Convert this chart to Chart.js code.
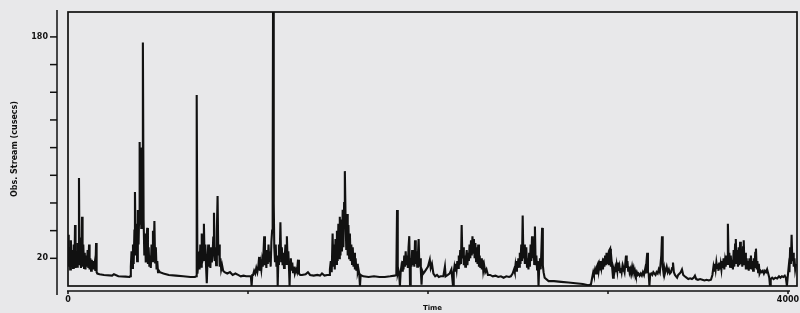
<!DOCTYPE html>
<html>
<head>
<meta charset="utf-8">
<script src="https://cdn.jsdelivr.net/npm/chart.js@4.4.1/dist/chart.umd.min.js"></script>
<style>
html,body{margin:0;padding:0;background:#e8e8ea;}
canvas{display:block;}
</style>
</head>
<body>
<canvas id="c" width="800" height="313"></canvas>
<script>
const segA_t = [0,4,8,12,16,20,24,28,32,36,39,42,46,50,54,58,61,64,68,72,76,78,81,85,89,93,97,101,105,109,113,117,120,124,128,132,136,140,144,148,152,156,159,163,175,200,245,255,280,320,342];
const segA_v = [37,14,28,12,33,16,26,13,30,15,44,13,25,14,31,17,78,15,35,13,27,50,14,30,13,24,12,22,14,26,13,30,12,20,11,19,12,18,12,16,11,31,10,9,8.5,8,7.5,8.5,7,6.8,6.5];

const segB_t = [345,349,353,357,361,365,369,372,376,380,384,388,392,395,398,401,404,407,410,413,416,420,424,428,432,436,440,444,448,452,456,460,464,468,472,476,480,484,488,492,496,500,505,510,530,560,600,640,680,705];
const segB_v = [7,14,25,13,30,16,40,68,22,45,18,55,30,50,104,45,98,42,100,55,176,48,22,38,17,32,42,16,28,14,22,13,30,18,40,20,47,17,28,12,18,10,11,10,9,8,7.5,7,6.5,6.5];

const segC_t = [712,715,719,723,727,731,735,739,743,747,751,755,759,763,767,771,775,779,783,787,791,795,799,803,807,811,815,819,823,827,831,835,839,843,847,851,856,862,870,885,900,915,930,945,960,975,990,1005,1016,1020,1024];
const segC_v = [7,138,9,15,25,12,30,14,38,18,20,45,18,30,14,2,18,30,14,24,13,28,17,22,35,53,18,28,15,40,65,22,30,14,20,12,15,11,10,9,10,8,9,8,7,7.5,7,7,7,0,8];

const segD_t = [1028,1034,1040,1046,1052,1058,1062,1066,1070,1074,1078,1082,1086,1090,1094,1098,1102,1106,1110,1114,1118,1122,1126,1130,1134,1137,1140,1143,1146,1150,1154,1158,1162,1165,1168,1172,1176,1180,1184,1188,1192,1196,1200,1204,1208,1212,1216,1220,1224,1228,1231,1234,1238,1242,1246,1250,1255,1260,1266,1272,1278,1283,1290];
const segD_v = [8,11,9,13,10,15,21,11,16,12,18,14,24,36,15,22,13,26,16,30,18,25,14,32,40,79,250,60,28,18,30,14,22,0,16,30,20,46,18,28,15,24,13,20,30,16,36,18,25,12,0,14,20,11,17,10,14,9,12,10,19,9,8];

const segE_t = [1300,1320,1333,1345,1365,1385,1400,1411,1425,1440,1450,1455,1460,1465,1470,1474,1478,1482,1486,1490,1494,1498,1502,1506,1510,1514,1518,1522,1526,1530,1534,1538,1542,1546,1550,1554,1558,1562,1566,1570,1574,1578,1582,1586,1590,1594,1598,1602,1606,1610,1614,1618,1622,1626,1640,1670,1700,1730,1760,1790,1815];
const segE_v = [8,8.5,10,8,7.5,8,7.5,9,7.5,8,8,12,18,10,38,14,30,12,34,16,40,18,45,20,50,22,48,25,55,28,60,83,50,26,52,22,44,20,38,18,30,16,28,14,24,12,20,11,16,10,12,9,0,8,7,6.5,7,6.5,6.5,7,7.5];

const segF_t = [1824,1828,1832,1836,1840,1844,1848,1852,1856,1860,1864,1868,1872,1876,1880,1884,1888,1892,1896,1900,1904,1908,1912,1916,1920,1924,1928,1932,1936,1940,1944,1948,1952,1956,1960,1964,1968,1974,1980,1990,2000,2010,2015,2022,2030,2040,2050,2060,2070,2085,2094,2098,2110,2120,2130,2139];
const segF_v = [8,55,9,11,8,0,10,14,11,18,12,22,14,25,15,22,13,28,36,1,20,14,26,15,24,14,33,16,25,14,22,34,14,20,12,1,11,9,10,12,14,19,13,16,9,7,8,6.5,7,7,14,7,8,9,12,0];

const segG_t = [2143,2147,2151,2155,2159,2163,2167,2171,2175,2179,2183,2187,2191,2195,2199,2203,2207,2211,2215,2219,2223,2227,2231,2235,2239,2243,2247,2251,2255,2259,2263,2267,2271,2275,2279,2283,2287,2291,2295,2299,2303,2307,2312,2318,2325,2333,2345,2360,2375,2390,2405,2420,2435,2450];
const segG_v = [10,14,11,16,12,18,13,22,15,26,16,44,20,28,15,22,14,20,26,15,24,18,30,20,33,22,36,24,34,20,31,18,28,16,30,14,22,13,20,12,19,11,15,10,12,8,8,7,7.5,6.5,7,6,7,6.5];

const segH_t = [2460,2470,2478,2482,2486,2490,2494,2498,2502,2506,2510,2514,2518,2522,2526,2530,2534,2538,2542,2546,2550,2554,2558,2562,2566,2570,2574,2578,2582,2586,2590,2594,2598,2602,2606,2610,2614,2618,2622,2626,2630,2634,2638,2642,2648,2670,2700,2740,2780,2820,2860,2890,2905];
const segH_v = [7,9,12,10,15,11,18,13,20,14,24,16,30,18,51,20,30,16,22,28,14,20,12,24,14,30,18,36,20,34,16,43,15,22,12,18,0,14,20,12,26,42,15,10,6,3.5,3.5,3,2.5,2,1.5,0.5,1];

const segI_t = [2912,2918,2922,2928,2934,2938,2944,2948,2952,2956,2960,2964,2968,2972,2976,2980,2984,2988,2992,2996,3000,3004,3008,3012,3016,3020,3024,3028,3032,3036,3040,3044,3048,3052,3056,3060,3064,3068,3072,3076,3080,3084,3088,3092,3096,3100,3104,3108,3112,3116,3120,3124,3128,3134,3138,3142,3146,3150,3155,3160,3165,3170,3176,3182,3188,3194,3200,3206,3210,3214,3218,3222,3226,3230,3234,3240,3246,3252,3258,3264,3270,3276,3282,3288,3292,3296,3300,3304,3308,3312,3316,3320,3326,3332,3338,3344];
const segI_v = [6,10,8,12,9,14,16,11,15,12,18,13,16,12,20,14,22,15,24,16,20,15,26,27,14,18,12,6,12,10,13,10,15,11,17,11,14,10,13,10,14,11,12,10,16,22,13,18,11,14,10,12,9,14,11,13,9,11,8,10,8,9,7.5,9,7.5,10,8,12,9,18,24,10,9,0,8,9,8,10,9,8,10,9,12,10,16,22,36,14,10,13,9,11,14,10,12,9];

const segJ_t = [3350,3356,3361,3366,3372,3378,3384,3390,3398,3404,3411,3418,3426,3436,3446,3456,3466,3476,3483,3490,3500,3512,3524,3536,3548,3560,3572,3580,3586,3590,3594,3598,3602,3606,3610,3614,3618,3622,3626,3630,3634,3638,3642,3646,3650,3654,3658,3662,3666,3670,3674,3678,3682,3686,3690,3694,3698,3702,3706,3710,3714,3718,3722,3726,3730,3734,3738,3742,3746,3750,3754,3758,3762,3766,3770,3774,3778,3782,3786,3790,3794,3798,3802,3806,3810,3814,3818,3822,3826,3830,3834,3838,3842,3848,3854,3860,3866,3872,3878,3884,3890,3896,3900,3904,3912,3920,3930,3940,3950,3958,3966,3974,3982,3988,3994,3998,4004,4008,4012,4016,4020,4024,4028,4032,4036,4040,4045];
const segJ_v = [10,13,17,10,8,7,6,8,9,10,12,8,7,6,5,5.5,5,6,7.5,5,4.5,5,4.5,4,4.5,4,4.5,8,14,11,16,12,17,13,16,11,17,12,16,12,18,13,20,12,18,14,22,16,45,18,24,14,22,13,19,12,26,14,30,34,16,26,14,28,15,32,16,24,14,28,33,15,24,12,20,12,18,11,20,13,22,12,18,11,20,13,24,27,12,18,10,16,9,11,10,11,9,11,10,12,9,6,0,5,6,5,6,5.5,7,6,7,6.5,7.5,6,0,6,14,10,28,16,37,18,24,14,20,12,16];

const xTickValues = [0, 1000, 2000, 3000, 4000];
const yTickValues = [20, 40, 60, 80, 100, 120, 140, 160, 180];
const xTickLabels = {0: '0', 4000: '4000'};
const yTickLabels = {20: '20', 180: '180'};
const xTitle = 'Time';
const yTitle = 'Obs. Stream (cusecs)';

// ---- build points ----
const tSegs = [segA_t, segB_t, segC_t, segD_t, segE_t, segF_t, segG_t, segH_t, segI_t, segJ_t];
const vSegs = [segA_v, segB_v, segC_v, segD_v, segE_v, segF_v, segG_v, segH_v, segI_v, segJ_v];
const points = [];
tSegs.forEach((ts, k) => {
  const vs = vSegs[k];
  const n = Math.min(ts.length, vs.length);
  for (let i = 0; i < n; i++) points.push({x: ts[i], y: vs[i]});
});

const INK = '#111111';
const FONT = 'DejaVu Sans';

const framePlugin = {
  id: 'frame',
  beforeDraw(chart) {
    const ctx = chart.ctx;
    ctx.save();
    ctx.fillStyle = '#e8e8ea';
    ctx.fillRect(0, 0, chart.width, chart.height);
    ctx.restore();
  },
  afterDraw(chart) {
    const {ctx, chartArea: a, scales} = chart;
    ctx.save();
    ctx.strokeStyle = INK;
    // plot frame
    ctx.lineWidth = 1.7;
    ctx.strokeRect(a.left, a.top, a.right - a.left, a.bottom - a.top);
    // offset y axis line with tick marks
    const ax = a.left - 11;
    ctx.lineWidth = 1.5;
    ctx.beginPath();
    ctx.moveTo(ax, a.top - 2);
    ctx.lineTo(ax, a.bottom + 9);
    ctx.stroke();
    scales.y.ticks.forEach(t => {
      const y = scales.y.getPixelForValue(t.value);
      ctx.beginPath();
      ctx.moveTo(ax - 7, y);
      ctx.lineTo(ax, y);
      ctx.stroke();
    });
    // offset x axis line with tick marks
    const ay = a.bottom + 5;
    const xs = scales.x.ticks.map(t => scales.x.getPixelForValue(t.value));
    ctx.beginPath();
    ctx.moveTo(a.left - 1, ay);
    ctx.lineTo(xs[xs.length - 1] + 2, ay);
    ctx.stroke();
    xs.forEach(x => {
      ctx.beginPath();
      ctx.moveTo(x, ay);
      ctx.lineTo(x, ay + 3);
      ctx.stroke();
    });
    ctx.restore();
  }
};

new Chart(document.getElementById('c'), {
  type: 'line',
  data: {
    datasets: [{
      data: points,
      borderColor: INK,
      borderWidth: 2.1,
      pointRadius: 0,
      tension: 0,
      fill: false
    }]
  },
  options: {
    responsive: false,
    animation: false,
    devicePixelRatio: 1,
    layout: {padding: {top: 12, right: 3, bottom: 0, left: 0}},
    plugins: {legend: {display: false}, tooltip: {enabled: false}},
    scales: {
      x: {
        type: 'linear',
        min: 0,
        max: 4050,
        afterBuildTicks(scale) { scale.ticks = xTickValues.map(v => ({value: v})); },
        grid: {display: true, drawOnChartArea: false, drawTicks: true, tickLength: 9, tickColor: 'rgba(0,0,0,0)'},
        border: {display: false},
        ticks: {
          autoSkip: false,
          maxRotation: 0,
          padding: 0,
          color: INK,
          font: {family: FONT, size: 8, weight: 'bold'},
          callback: v => xTickLabels[v] !== undefined ? xTickLabels[v] : ''
        },
        title: {
          display: true,
          text: xTitle,
          color: INK,
          font: {family: FONT, size: 7, weight: 'bold'},
          padding: {top: 0, bottom: 1}
        },
        afterFit(scale) { scale.height = 27; }
      },
      y: {
        min: 0,
        max: 198,
        afterBuildTicks(scale) { scale.ticks = yTickValues.map(v => ({value: v})); },
        grid: {display: true, drawOnChartArea: false, drawTicks: true, tickLength: 20, tickColor: 'rgba(0,0,0,0)'},
        border: {display: false},
        ticks: {
          autoSkip: false,
          padding: 0,
          color: INK,
          font: {family: FONT, size: 8, weight: 'bold'},
          callback: v => yTickLabels[v] !== undefined ? yTickLabels[v] : ''
        },
        title: {
          display: true,
          text: yTitle,
          color: INK,
          font: {family: FONT, size: 8, weight: 'bold'},
          padding: {top: 10, bottom: 0}
        },
        afterFit(scale) { scale.width = 68; }
      }
    }
  },
  plugins: [framePlugin]
});
</script>
</body>
</html>
